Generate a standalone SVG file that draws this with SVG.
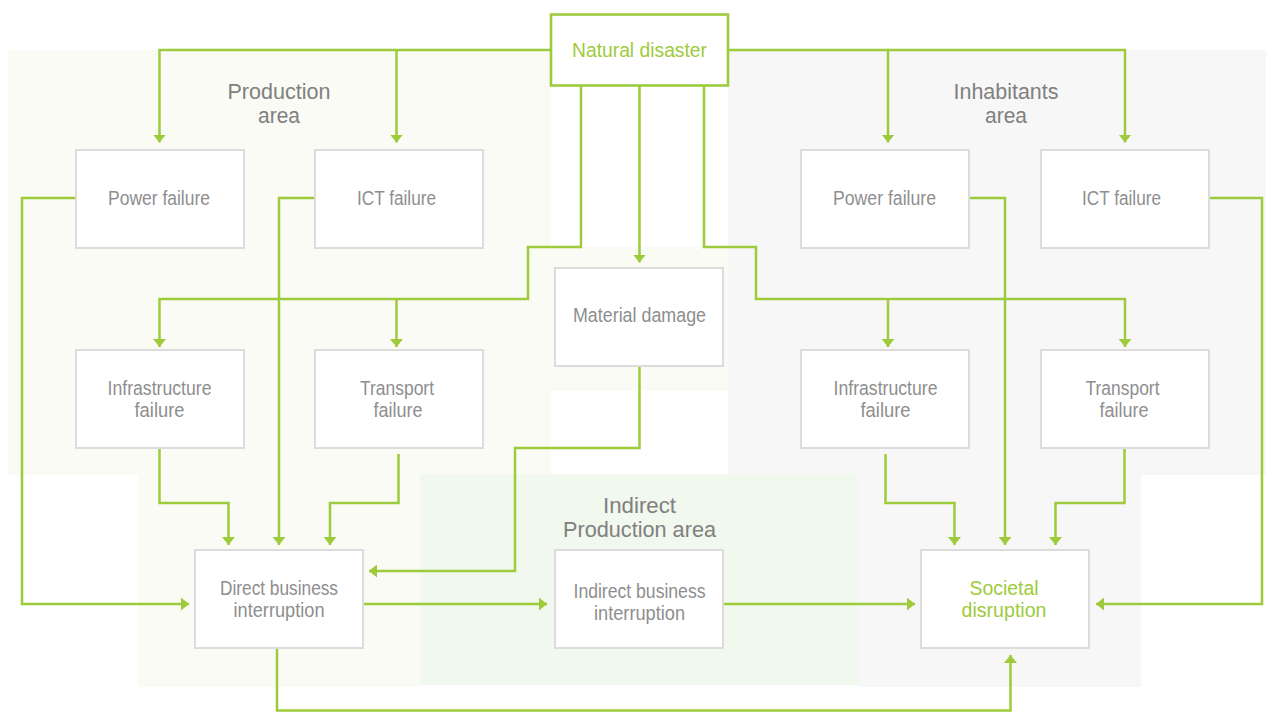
<svg xmlns="http://www.w3.org/2000/svg" width="1266" height="712" viewBox="0 0 1266 712">
<style>
.box{fill:#ffffff;stroke:#dcdcdc;stroke-width:2}
.key{fill:#ffffff;stroke:#9dcb3b;stroke-width:2.6}
.t{font-family:"Liberation Sans",Arial,sans-serif;font-size:20.5px;fill:#8e8e8e;text-anchor:middle}
.g{fill:#9dcb3b}
.h{font-family:"Liberation Sans",Arial,sans-serif;font-size:21.5px;fill:#808080;text-anchor:middle}
.c{fill:none;stroke:#9dcb3b;stroke-width:2.5}
</style>
<defs>
<marker id="a" markerUnits="userSpaceOnUse" viewBox="0 0 8 13" refX="8" refY="6.5" markerWidth="8" markerHeight="13" orient="auto">
<path d="M0,0 L8,6.5 L0,13 Z" fill="#9dcb3b"/>
</marker>
</defs>
<rect width="1266" height="712" fill="#ffffff"/>
<g id="areas">
<path d="M8,50 H551 V247 H728 V391 H551 V475 H420 V687 H138 V475 H8 Z" fill="#fafbf5"/>
<path d="M728,50 H1266 V475 H1141 V687 H858 V475 H728 Z" fill="#f7f7f7"/>
<rect x="420" y="474" width="438" height="211" fill="#f1f8ed"/>
<text class="h"><tspan x="279" y="98.5" textLength="103" lengthAdjust="spacingAndGlyphs">Production</tspan><tspan x="279" y="123" textLength="42" lengthAdjust="spacingAndGlyphs">area</tspan></text>
<text class="h"><tspan x="1006" y="98.5" textLength="105" lengthAdjust="spacingAndGlyphs">Inhabitants</tspan><tspan x="1006" y="123" textLength="42" lengthAdjust="spacingAndGlyphs">area</tspan></text>
<text class="h"><tspan x="639.5" y="512.5" textLength="73" lengthAdjust="spacingAndGlyphs">Indirect</tspan><tspan x="639.5" y="537" textLength="153" lengthAdjust="spacingAndGlyphs">Production area</tspan></text>
</g>
<g id="connectors">
<path class="c" d="M551,50 H159.5 V142.5" marker-end="url(#a)"/>
<path class="c" d="M396.5,50 V142.5" marker-end="url(#a)"/>
<path class="c" d="M729,50 H1125 V142.5" marker-end="url(#a)"/>
<path class="c" d="M888,50 V142.5" marker-end="url(#a)"/>
<path class="c" d="M581,86 V247 H528 V299 H159.5 V347" marker-end="url(#a)"/>
<path class="c" d="M396.5,299 V347" marker-end="url(#a)"/>
<path class="c" d="M639.5,86 V262.5" marker-end="url(#a)"/>
<path class="c" d="M704,86 V247 H756 V299 H1125 V347" marker-end="url(#a)"/>
<path class="c" d="M888,299 V347" marker-end="url(#a)"/>
<path class="c" d="M76,198 H22 V604 H189" marker-end="url(#a)"/>
<path class="c" d="M315,198 H279 V545" marker-end="url(#a)"/>
<path class="c" d="M159.5,448 V503 H228.5 V545" marker-end="url(#a)"/>
<path class="c" d="M398.5,454 V503 H330 V545" marker-end="url(#a)"/>
<path class="c" d="M639.5,366 V448 H515 V571 H369" marker-end="url(#a)"/>
<path class="c" d="M363,604 H547" marker-end="url(#a)"/>
<path class="c" d="M723,604 H915" marker-end="url(#a)"/>
<path class="c" d="M277,648 V710.5 H1010.5 V655" marker-end="url(#a)"/>
<path class="c" d="M969,198 H1005 V545" marker-end="url(#a)"/>
<path class="c" d="M885.5,454 V503 H954.5 V545" marker-end="url(#a)"/>
<path class="c" d="M1124.5,448 V503 H1055.5 V545" marker-end="url(#a)"/>
<path class="c" d="M1209,198 H1262 V604 H1096" marker-end="url(#a)"/>
</g>
<g id="natural-disaster">
<rect class="key" x="551" y="14.5" width="177" height="71"/>
<text class="t g" x="639.5" y="56.5" textLength="135" lengthAdjust="spacingAndGlyphs">Natural disaster</text>
</g>
<g id="prod-power">
<rect class="box" x="76" y="150" width="168" height="98"/>
<text class="t" x="159" y="205" textLength="102" lengthAdjust="spacingAndGlyphs">Power failure</text>
</g>
<g id="prod-ict">
<rect class="box" x="315" y="150" width="168" height="98"/>
<text class="t" x="396.5" y="205" textLength="79" lengthAdjust="spacingAndGlyphs">ICT failure</text>
</g>
<g id="inh-power">
<rect class="box" x="801" y="150" width="168" height="98"/>
<text class="t" x="884.5" y="205" textLength="103" lengthAdjust="spacingAndGlyphs">Power failure</text>
</g>
<g id="inh-ict">
<rect class="box" x="1041" y="150" width="168" height="98"/>
<text class="t" x="1121.5" y="205" textLength="79" lengthAdjust="spacingAndGlyphs">ICT failure</text>
</g>
<g id="material-damage">
<rect class="box" x="555" y="268" width="168" height="98"/>
<text class="t" x="639.5" y="322" textLength="133" lengthAdjust="spacingAndGlyphs">Material damage</text>
</g>
<g id="prod-infra">
<rect class="box" x="76" y="350" width="168" height="98"/>
<text class="t"><tspan x="159.5" y="395" textLength="104" lengthAdjust="spacingAndGlyphs">Infrastructure</tspan><tspan x="159.5" y="417" textLength="50" lengthAdjust="spacingAndGlyphs">failure</tspan></text>
</g>
<g id="prod-transport">
<rect class="box" x="315" y="350" width="168" height="98"/>
<text class="t"><tspan x="397" y="395" textLength="74" lengthAdjust="spacingAndGlyphs">Transport</tspan><tspan x="398" y="417" textLength="49" lengthAdjust="spacingAndGlyphs">failure</tspan></text>
</g>
<g id="inh-infra">
<rect class="box" x="801" y="350" width="168" height="98"/>
<text class="t"><tspan x="885.5" y="395" textLength="104" lengthAdjust="spacingAndGlyphs">Infrastructure</tspan><tspan x="885.5" y="417" textLength="50" lengthAdjust="spacingAndGlyphs">failure</tspan></text>
</g>
<g id="inh-transport">
<rect class="box" x="1041" y="350" width="168" height="98"/>
<text class="t"><tspan x="1122.5" y="395" textLength="74" lengthAdjust="spacingAndGlyphs">Transport</tspan><tspan x="1124" y="417" textLength="49" lengthAdjust="spacingAndGlyphs">failure</tspan></text>
</g>
<g id="direct-bi">
<rect class="box" x="195" y="550" width="168" height="98"/>
<text class="t"><tspan x="279" y="595" textLength="118" lengthAdjust="spacingAndGlyphs">Direct business</tspan><tspan x="279" y="617" textLength="91" lengthAdjust="spacingAndGlyphs">interruption</tspan></text>
</g>
<g id="indirect-bi">
<rect class="box" x="555" y="550" width="168" height="98"/>
<text class="t"><tspan x="639.5" y="598" textLength="132" lengthAdjust="spacingAndGlyphs">Indirect business</tspan><tspan x="639.5" y="620" textLength="91" lengthAdjust="spacingAndGlyphs">interruption</tspan></text>
</g>
<g id="societal-disruption">
<rect class="box" x="921" y="550" width="168" height="98"/>
<text class="t g"><tspan x="1004" y="595" textLength="69" lengthAdjust="spacingAndGlyphs">Societal</tspan><tspan x="1004" y="617" textLength="85" lengthAdjust="spacingAndGlyphs">disruption</tspan></text>
</g>
</svg>
